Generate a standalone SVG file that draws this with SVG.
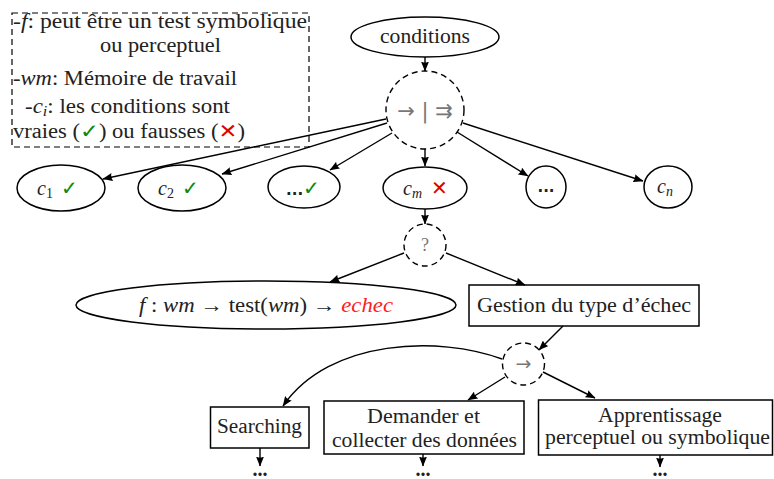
<svg xmlns="http://www.w3.org/2000/svg" width="774" height="479" viewBox="0 0 774 479">
<style>
text{font-family:"Liberation Serif","DejaVu Serif",serif;font-size:20px;fill:#222}
.it{font-style:italic}
.sub{font-size:14px}
.g{fill:#0a8a0a;font-family:"DejaVu Sans",sans-serif}
.r{fill:#e00000;font-family:"DejaVu Sans",sans-serif}
.gray{fill:#777}
.shape{fill:#fff;stroke:#000;stroke-width:1.5}
.dash{fill:#fff;stroke:#000;stroke-width:1.4;stroke-dasharray:6 4}
.conn line,.conn path{stroke:#000;stroke-width:1.4;fill:none;marker-end:url(#ah)}
</style>
<defs>
<marker id="ah" viewBox="0 0 10 8" refX="9.5" refY="4" markerWidth="10" markerHeight="8" markerUnits="userSpaceOnUse" orient="auto">
<path d="M0,0 L10,4 L0,8 Q2,4 0,0 z" fill="#000"/>
</marker>
</defs>

<g id="legend">
<rect x="12" y="13" width="297" height="134" fill="none" stroke="#000" stroke-width="1.2" stroke-dasharray="6 4"/>
<text x="13" y="28" textLength="294" lengthAdjust="spacingAndGlyphs">-<tspan class="it">f</tspan>: peut être un test symbolique</text>
<text x="100" y="52" textLength="121" lengthAdjust="spacingAndGlyphs">ou perceptuel</text>
<text x="13" y="85" textLength="224" lengthAdjust="spacingAndGlyphs">-<tspan class="it">wm</tspan>: Mémoire de travail</text>
<text x="25" y="113" textLength="205" lengthAdjust="spacingAndGlyphs">-<tspan class="it">c</tspan><tspan class="it sub" dy="3">i</tspan><tspan dy="-3">: les conditions sont</tspan></text>
<text x="13" y="138" textLength="232" lengthAdjust="spacingAndGlyphs">vraies (<tspan class="g">✓</tspan>) ou fausses (<tspan class="r">✕</tspan>)</text>
</g>

<g id="conditions">
<ellipse class="shape" cx="425" cy="37" rx="74" ry="20"/>
<text x="425" y="43" text-anchor="middle" textLength="90" lengthAdjust="spacingAndGlyphs">conditions</text>
</g>

<g id="choice">
<circle class="dash" cx="425" cy="110" r="39"/>
<text class="gray" x="425" y="118" text-anchor="middle" style="font-family:'DejaVu Sans',sans-serif;font-size:21px">→ | ⇉</text>
</g>

<g id="c1">
<ellipse class="shape" cx="61" cy="188" rx="44" ry="23"/>
<text x="37" y="195"><tspan class="it">c</tspan><tspan class="sub" dy="3">1</tspan><tspan class="g" dy="-3" dx="8">✓</tspan></text>
</g>
<g id="c2">
<ellipse class="shape" cx="182" cy="188" rx="44" ry="23"/>
<text x="158" y="195"><tspan class="it">c</tspan><tspan class="sub" dy="3">2</tspan><tspan class="g" dy="-3" dx="8">✓</tspan></text>
</g>
<g id="cdots-ok">
<ellipse class="shape" cx="304" cy="187" rx="36" ry="21"/>
<text x="286" y="195" style="font-weight:bold;font-family:'DejaVu Sans',sans-serif;font-size:15px">...<tspan class="g" style="font-weight:normal;font-size:20px">✓</tspan></text>
</g>
<g id="cm">
<ellipse class="shape" cx="425" cy="188" rx="42" ry="21"/>
<text x="403" y="195"><tspan class="it">c</tspan><tspan class="it sub" dy="3">m</tspan><tspan class="r" dy="-3" dx="9">✕</tspan></text>
</g>
<g id="cdots">
<ellipse class="shape" cx="546" cy="187" rx="20" ry="21"/>
<text x="546" y="192" text-anchor="middle" style="font-weight:bold;font-family:'DejaVu Sans',sans-serif;font-size:15px">...</text>
</g>
<g id="cn">
<ellipse class="shape" cx="668" cy="187" rx="24" ry="21"/>
<text x="657" y="193"><tspan class="it">c</tspan><tspan class="it sub" dy="3">n</tspan></text>
</g>

<g id="question">
<circle class="dash" cx="425" cy="245" r="21"/>
<text class="gray" x="425" y="251" text-anchor="middle" style="font-size:18px">?</text>
</g>

<g id="f">
<ellipse class="shape" cx="266" cy="305" rx="190" ry="24"/>
<text x="139" y="312" textLength="254" lengthAdjust="spacingAndGlyphs"><tspan class="it">f</tspan> : <tspan class="it">wm</tspan> → test(<tspan class="it">wm</tspan>) → <tspan class="it" style="fill:#ff2020">echec</tspan></text>
</g>

<g id="gestion">
<rect class="shape" x="469" y="285" width="230" height="41"/>
<text x="477" y="312" textLength="214" lengthAdjust="spacingAndGlyphs">Gestion du type d’échec</text>
</g>

<g id="seq">
<circle class="dash" cx="523.5" cy="364" r="21"/>
<text class="gray" x="523.5" y="370" text-anchor="middle" style="font-family:'DejaVu Sans',sans-serif;font-size:19px">→</text>
</g>

<g id="searching">
<rect class="shape" x="210.5" y="407" width="98.5" height="41"/>
<text x="217" y="433" textLength="85" lengthAdjust="spacingAndGlyphs">Searching</text>
</g>
<g id="demander">
<rect class="shape" x="324" y="401" width="200" height="53"/>
<text x="367" y="423" textLength="113" lengthAdjust="spacingAndGlyphs">Demander et</text>
<text x="332" y="447" textLength="185" lengthAdjust="spacingAndGlyphs">collecter des données</text>
</g>
<g id="apprentissage">
<rect class="shape" x="538.5" y="400" width="234" height="55"/>
<text x="598" y="422" textLength="124" lengthAdjust="spacingAndGlyphs">Apprentissage</text>
<text x="545" y="444" textLength="225" lengthAdjust="spacingAndGlyphs">perceptuel ou symbolique</text>
</g>

<g id="dots-bottom" style="font-weight:bold;font-family:'DejaVu Sans',sans-serif;font-size:10px">
<text x="260" y="476" text-anchor="middle">...</text>
<text x="423" y="476" text-anchor="middle">...</text>
<text x="660" y="476" text-anchor="middle">...</text>
</g>

<g class="conn" id="connectors">
<line x1="425" y1="57" x2="425" y2="71"/>
<line x1="386" y1="119" x2="103" y2="179"/>
<line x1="387" y1="123" x2="222" y2="174"/>
<line x1="392" y1="133" x2="330" y2="170"/>
<line x1="425" y1="149" x2="425" y2="166"/>
<line x1="457" y1="132" x2="528" y2="176"/>
<line x1="463" y1="123" x2="643" y2="181"/>
<line x1="425" y1="209" x2="425" y2="224"/>
<line x1="404" y1="253" x2="330" y2="282"/>
<line x1="446" y1="253" x2="525" y2="285"/>
<line x1="563" y1="326" x2="539" y2="350"/>
<path d="M502,359 C440,336 330,338 283,406"/>
<line x1="505" y1="377" x2="468" y2="400"/>
<line x1="543" y1="372" x2="595" y2="398"/>
<line x1="260" y1="448" x2="260" y2="466"/>
<line x1="423" y1="454" x2="423" y2="466"/>
<line x1="660" y1="455" x2="660" y2="467"/>
</g>
</svg>
